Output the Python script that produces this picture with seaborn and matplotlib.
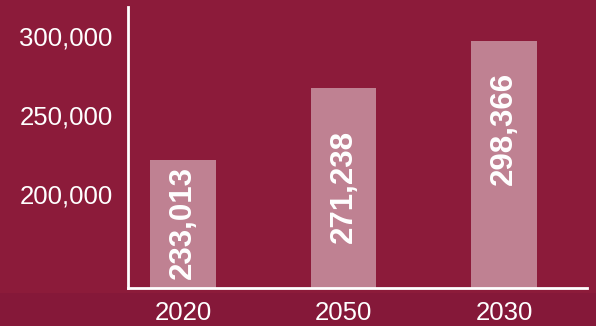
import matplotlib
matplotlib.use("Agg")
import matplotlib.pyplot as plt
import seaborn as sns
import pandas as pd
from matplotlib.patches import Rectangle
from matplotlib.ticker import FuncFormatter

# ---- data ----
years = ["2020", "2050", "2030"]
bar_values = [221500, 267100, 296800]          # bar heights as drawn
bar_labels = ["233,013", "271,238", "298,366"]  # printed labels
y_ticks = [200000, 250000, 300000]

df = pd.DataFrame({"year": years, "value": bar_values})

sns.set_theme(style="white")
plt.rcParams["font.family"] = ["Liberation Sans", "DejaVu Sans"]

BG = "#8C1B3A"
fig = plt.figure(figsize=(5.96, 3.26), dpi=100, facecolor=BG)
# darker bottom strip
fig.patches.append(Rectangle((0, 0), 1, 33 / 326, transform=fig.transFigure,
                             facecolor="#851839", edgecolor="none", zorder=-5))

ax = fig.add_axes([128 / 596, (326 - 287.5) / 326, (587 - 128) / 596, (287.5 - 7) / 326])
ax.set_facecolor("none")
ax.set_zorder(2)

sns.barplot(data=df, x="year", y="value", ax=ax, color="white", alpha=0.45,
            width=0.41, saturation=1, linewidth=0, edgecolor="none")

ymin, ymax = 140800, 318350
ax.set_ylim(ymin, ymax)
ax.set_xlim(-0.343, 2.517)

label_frac = [0.508, 0.505, 0.644]
for i, (v, lab) in enumerate(zip(bar_values, bar_labels)):
    yc = ymin + label_frac[i] * (v - ymin)
    ax.text(i, yc, lab, rotation=90, ha="center", va="center",
            color="white", fontsize=22.5, fontweight="bold")

ax.set_yticks(y_ticks)
ax.yaxis.set_major_formatter(FuncFormatter(lambda v, p: f"{int(v):,}"))
ax.tick_params(axis="both", length=0, colors="white", labelsize=18.5)
ax.tick_params(axis="y", pad=11)
ax.tick_params(axis="x", pad=10)
ax.set_xlabel("")
ax.set_ylabel("")

for s in ["top", "right"]:
    ax.spines[s].set_visible(False)
for s in ["left", "bottom"]:
    ax.spines[s].set_color("white")
    ax.spines[s].set_linewidth(2)

fig.savefig("out.png", dpi=100, facecolor=BG)
